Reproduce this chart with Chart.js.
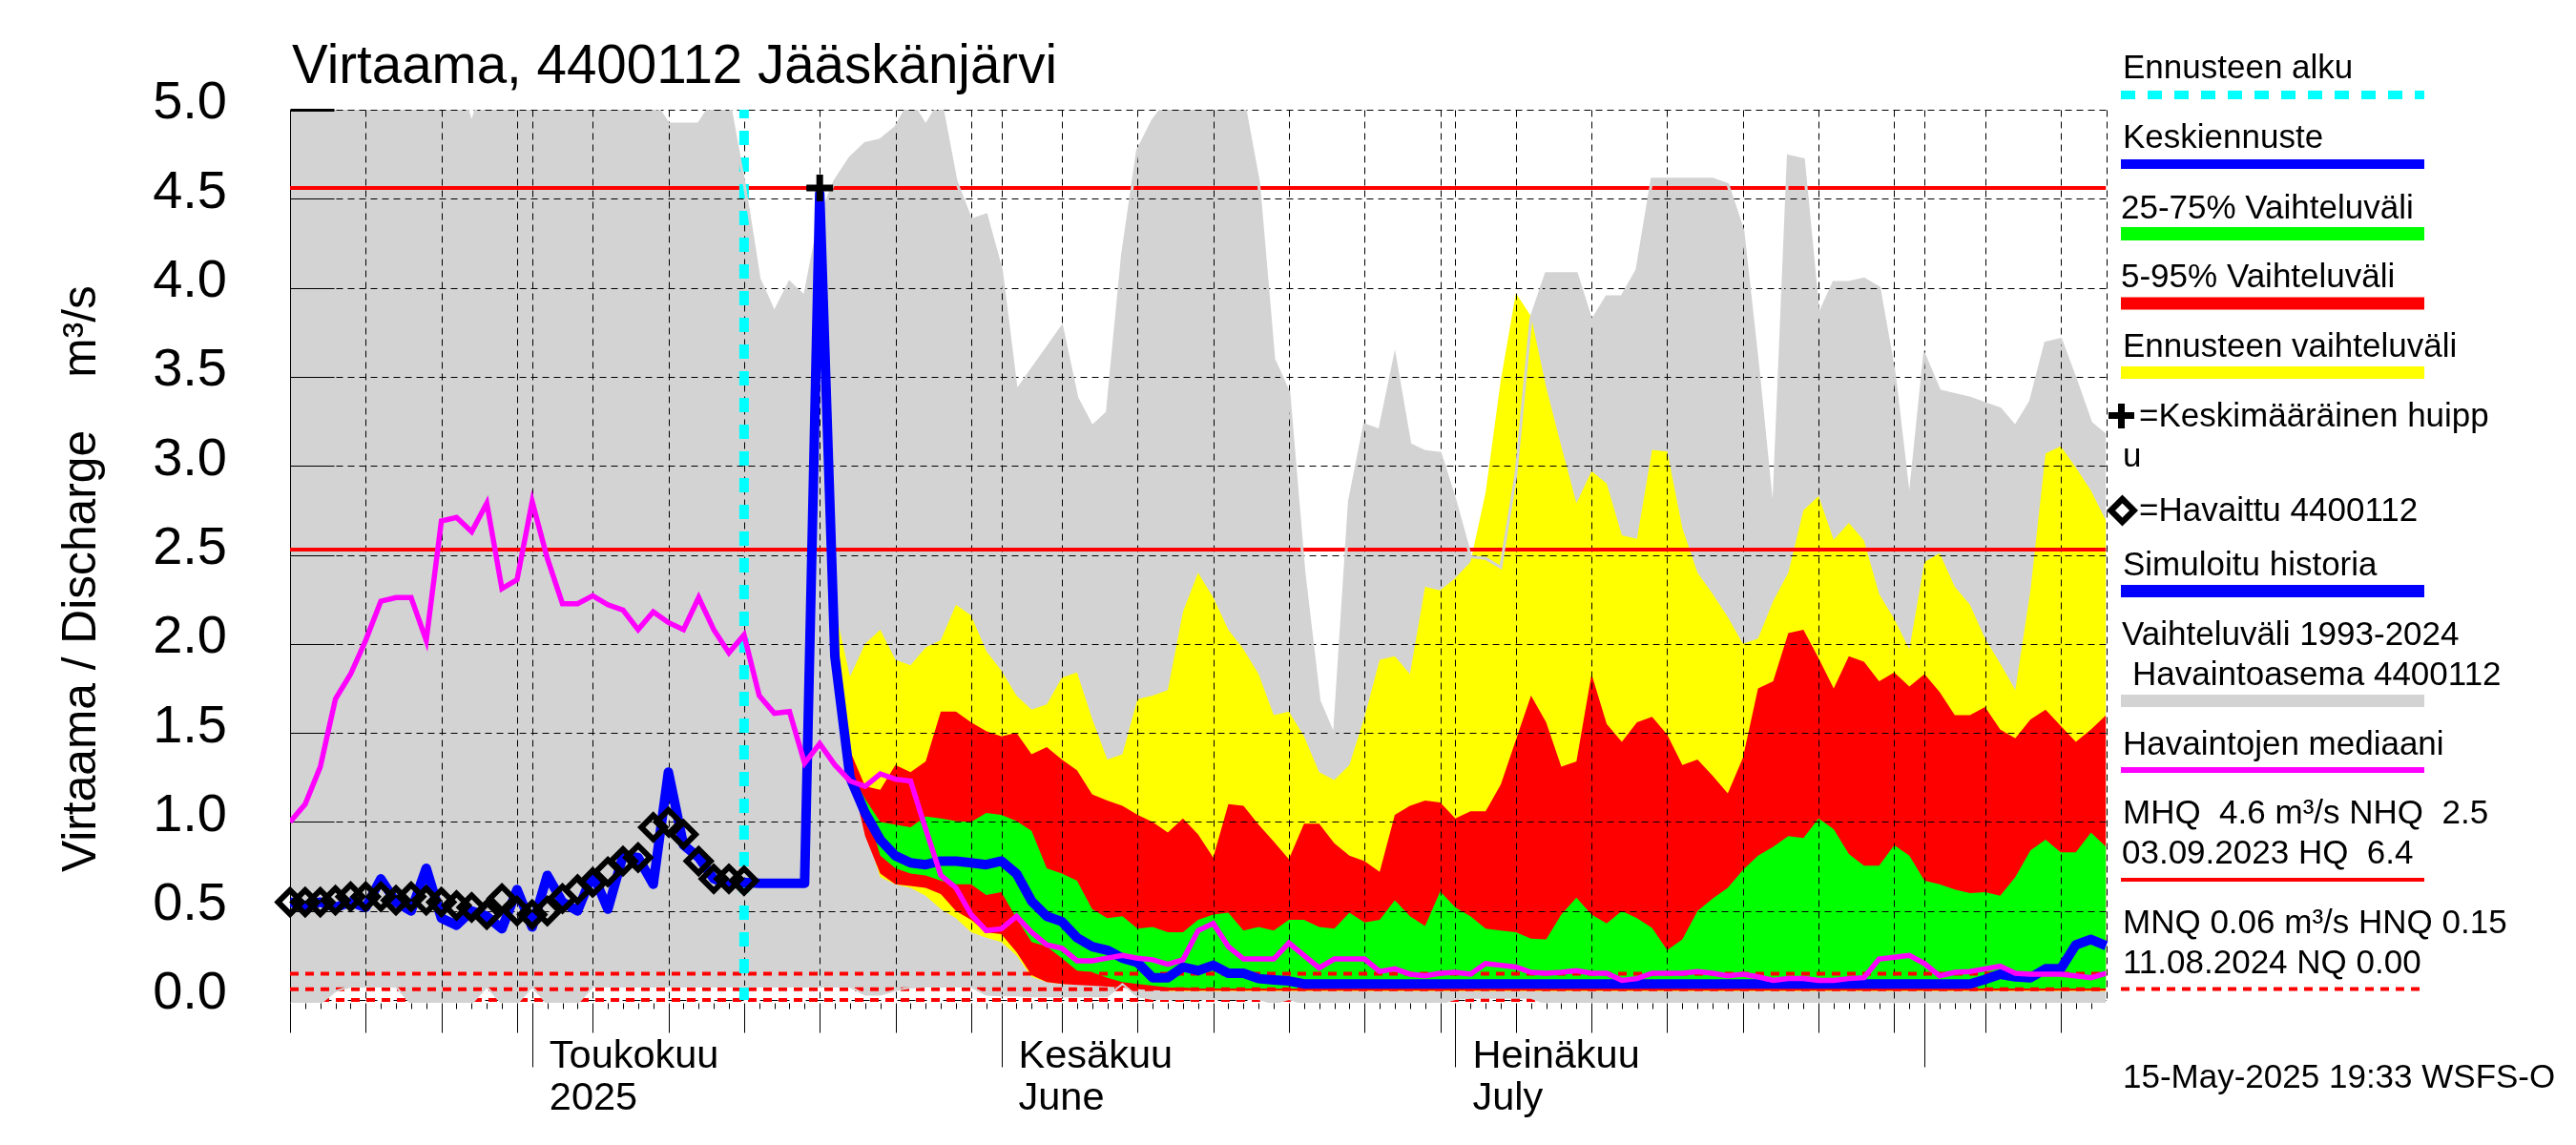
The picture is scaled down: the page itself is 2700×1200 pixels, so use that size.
<!DOCTYPE html>
<html>
<head>
<meta charset="utf-8">
<title>Virtaama 4400112</title>
<script src="https://cdn.jsdelivr.net/npm/chart.js@4"></script>
<style>
  html, body { margin: 0; padding: 0; background: #fff; }
  canvas { display: block; }
</style>
</head>
<body>
<canvas id="chart" width="2700" height="1200"></canvas>
<script>
// Day index 0 = 15 Apr 2025, 120 = 13 Aug 2025
const lastDay = 120;
const yTicks = [0, 0.5, 1, 1.5, 2, 2.5, 3, 3.5, 4, 4.5, 5];
const gridDays = [0, 5, 10, 15, 16, 20, 25, 30, 35, 40, 45, 47, 51, 56, 61, 66, 71, 76, 77, 81, 86, 91, 96, 101, 106, 108, 112, 117];
const monthDays = [16, 47, 77, 108];
const monthNames = [["Toukokuu", "2025"], ["Kesäkuu", "June"], ["Heinäkuu", "July"], [""]];

const greyUpper = [
  5.2, 5.2, 5.2, 5.2, 5.2, 5.2, 5.2, 5.2, 5.2, 5.2,
  5.2, 5.2, 4.92, 5.2, 5.2, 5.2, 5.2, 5.2, 5.2, 5.2,
  5.2, 5.2, 5.2, 5.2, 5.05, 4.92, 4.92, 4.92, 5.05, 5.05,
  4.59, 4.05, 3.86, 4.03, 3.95, 4.39, 4.60, 4.73, 4.81, 4.83,
  4.90, 5.05, 4.91, 5.05, 4.60, 4.38, 4.41, 4.10, 3.42, 3.54,
  3.66, 3.78, 3.38, 3.22, 3.30, 4.18, 4.77, 4.94, 5.05, 5.05,
  5.05, 5.05, 5.05, 5.05, 4.59, 3.60, 3.41, 2.40, 1.68, 1.48,
  2.80, 3.23, 3.20, 3.61, 3.12, 3.08, 3.07, 2.80, 2.49, 2.48,
  2.43, 2.95, 3.83, 4.08, 4.08, 4.08, 3.81, 3.95, 3.95, 4.10,
  4.61, 4.61, 4.61, 4.61, 4.61, 4.58, 4.32, 3.55, 2.70, 4.74,
  4.72, 3.84, 4.03, 4.03, 4.05, 4.00, 3.52, 2.79, 3.62, 3.42,
  3.40, 3.38, 3.35, 3.32, 3.22, 3.36, 3.69, 3.71, 3.48, 3.24,
  3.17
];
const greyLower = [
  -0.02, -0.02, -0.02, 0.05, 0.075, 0.075, 0.075, 0.075, -0.02, -0.02,
  -0.02, -0.02, -0.02, 0.075, -0.02, -0.02, 0.075, -0.02, -0.02, -0.02,
  0.075, 0.075, 0.075, 0.075, 0.075, 0.075, 0.075, 0.075, 0.075, 0.075,
  0.075, 0.075, 0.075, 0.075, 0.075, 0.075, 0.075, 0.075, 0.03, 0.03,
  0.055, 0.07, 0.075, 0.075, 0.075, 0.075, 0.03, 0.025, 0.025, 0.02,
  0.02, 0.02, 0.02, 0.02, 0.02, 0.09, 0.02, 0.005, 0.005, 0.005,
  0.005, 0.005, 0.005, 0.005, 0.005, -0.02, 0.005, -0.02, -0.02, -0.02,
  -0.02, -0.02, -0.02, -0.02, -0.02, -0.02, -0.02, 0.005, 0.012, 0.012,
  0.012, 0.012, 0.012, -0.02, -0.02, -0.02, -0.02, -0.02, -0.02, -0.02,
  -0.02, -0.02, -0.02, -0.02, -0.02, -0.02, -0.02, -0.02, -0.02, -0.02,
  -0.02, -0.02, -0.02, -0.02, -0.02, -0.02, -0.02, -0.02, -0.02, -0.02,
  -0.02, -0.02, -0.02, -0.02, -0.02, -0.02, -0.02, -0.02, -0.02, -0.02,
  -0.02
];

// Forecast bands, yellow starts at day 35, red at day 36, green at day 37
const yellowUpper = [
  4.66, 2.20, 1.815, 2.00, 2.08,
  1.91, 1.88, 1.98, 2.02, 2.22, 2.16, 1.96, 1.85, 1.71, 1.63,
  1.66, 1.81, 1.84, 1.58, 1.35, 1.38, 1.69, 1.71, 1.74, 2.18,
  2.40, 2.26, 2.08, 1.97, 1.83, 1.60, 1.62, 1.48, 1.28, 1.235,
  1.32, 1.59, 1.91, 1.93, 1.83, 2.32, 2.30, 2.37, 2.46, 2.85,
  3.48, 3.97, 3.84, 3.44, 3.11, 2.79, 2.97, 2.90, 2.61, 2.59,
  3.09, 3.08, 2.65, 2.40, 2.28, 2.15, 2.00, 2.03, 2.24, 2.40,
  2.75, 2.83, 2.585, 2.68, 2.58, 2.28, 2.14, 1.97, 2.46, 2.51,
  2.32, 2.22, 2.03, 1.89, 1.74, 2.30, 3.07, 3.11, 2.99, 2.86,
  2.69
];
const yellowLower = [
  4.45, 1.85, 1.30, 0.96, 0.69,
  0.65, 0.63, 0.585, 0.51, 0.46, 0.38, 0.35, 0.325, 0.25, 0.13,
  0.10, 0.09, 0.09, 0.09, 0.09, 0.08, 0.07, 0.06, 0.05, 0.05,
  0.05, 0.05, 0.05, 0.05, 0.05, 0.05, 0.05, 0.05, 0.05, 0.05,
  0.05, 0.05, 0.05, 0.05, 0.05, 0.05, 0.05, 0.05, 0.05, 0.05,
  0.05, 0.05, 0.05, 0.05, 0.05, 0.05, 0.05, 0.05, 0.05, 0.05,
  0.05, 0.05, 0.05, 0.05, 0.05, 0.05, 0.05, 0.05, 0.05, 0.05,
  0.05, 0.05, 0.05, 0.05, 0.05, 0.05, 0.05, 0.05, 0.05, 0.05,
  0.05, 0.05, 0.05, 0.05, 0.05, 0.05, 0.05, 0.05, 0.05, 0.05,
  0.05
];
const redUpper = [
  1.90, 1.40, 1.20, 1.18,
  1.32, 1.28, 1.34, 1.62, 1.62, 1.56, 1.51, 1.48, 1.50, 1.38,
  1.42, 1.35, 1.29, 1.155, 1.12, 1.09, 1.04, 1.00, 0.94, 1.02,
  0.93, 0.80, 1.10, 1.09, 0.985, 0.89, 0.79, 0.99, 0.99, 0.88,
  0.81, 0.78, 0.72, 1.04, 1.09, 1.12, 1.11, 1.02, 1.06, 1.06,
  1.21, 1.46, 1.71, 1.56, 1.31, 1.34, 1.83, 1.55, 1.45, 1.56,
  1.59, 1.49, 1.32, 1.35, 1.26, 1.16, 1.36, 1.75, 1.79, 2.06,
  2.08, 1.92, 1.75, 1.93, 1.90, 1.79, 1.84, 1.76, 1.83, 1.73,
  1.60, 1.60, 1.645, 1.52, 1.47, 1.575, 1.63, 1.54, 1.45, 1.52,
  1.60
];
const redLower = [
  1.80, 1.29, 0.92, 0.71,
  0.65, 0.64, 0.63, 0.595, 0.50, 0.45, 0.38, 0.37, 0.27, 0.14,
  0.10, 0.09, 0.085, 0.08, 0.075, 0.07, 0.06, 0.055, 0.052, 0.052,
  0.052, 0.052, 0.052, 0.052, 0.052, 0.052, 0.052, 0.052, 0.052, 0.052,
  0.052, 0.052, 0.052, 0.052, 0.052, 0.052, 0.052, 0.052, 0.052, 0.052,
  0.052, 0.052, 0.052, 0.052, 0.052, 0.052, 0.052, 0.052, 0.052, 0.052,
  0.052, 0.052, 0.052, 0.052, 0.052, 0.052, 0.052, 0.052, 0.052, 0.052,
  0.052, 0.052, 0.052, 0.052, 0.052, 0.052, 0.052, 0.052, 0.052, 0.052,
  0.052, 0.052, 0.052, 0.052, 0.052, 0.052, 0.052, 0.052, 0.052, 0.052,
  0.052
];
const greenUpper = [
  1.28, 1.13, 1.00,
  0.985, 0.97, 1.03, 1.02, 1.005, 1.00, 1.05, 1.04, 1.005, 0.95,
  0.74, 0.71, 0.67, 0.51, 0.46, 0.47, 0.40, 0.41, 0.38, 0.38,
  0.45, 0.48, 0.49, 0.39, 0.41, 0.39, 0.45, 0.45, 0.41, 0.40,
  0.49, 0.435, 0.45, 0.56, 0.47, 0.415, 0.61, 0.52, 0.47, 0.40,
  0.39, 0.38, 0.345, 0.34, 0.48, 0.575, 0.48, 0.43, 0.50, 0.46,
  0.405, 0.28, 0.34, 0.50, 0.57, 0.63, 0.73, 0.81, 0.86, 0.92,
  0.91, 1.02, 0.96, 0.82, 0.755, 0.755, 0.87, 0.81, 0.67, 0.65,
  0.62, 0.60, 0.605, 0.585, 0.69, 0.84, 0.90, 0.83, 0.83, 0.94,
  0.86
];
const greenLower = [
  1.27, 1.09, 0.81,
  0.74, 0.71, 0.70, 0.67, 0.65, 0.65, 0.59, 0.605, 0.46, 0.325,
  0.30, 0.235, 0.165, 0.155, 0.125, 0.10, 0.09, 0.08, 0.07, 0.07,
  0.065, 0.065, 0.065, 0.065, 0.065, 0.065, 0.065, 0.065, 0.065, 0.065,
  0.065, 0.065, 0.065, 0.065, 0.065, 0.065, 0.065, 0.065, 0.065, 0.065,
  0.065, 0.065, 0.065, 0.065, 0.065, 0.065, 0.065, 0.065, 0.065, 0.065,
  0.065, 0.065, 0.065, 0.065, 0.065, 0.065, 0.065, 0.065, 0.065, 0.065,
  0.065, 0.065, 0.065, 0.065, 0.065, 0.065, 0.065, 0.065, 0.065, 0.065,
  0.065, 0.065, 0.065, 0.065, 0.065, 0.065, 0.065, 0.065, 0.065, 0.065,
  0.065
];

// Simulated history up to day 30, then the mean forecast
const blueLine = [
  0.55, 0.53, 0.55, 0.52, 0.55, 0.52, 0.68, 0.55, 0.50, 0.74,
  0.46, 0.42, 0.50, 0.47, 0.40, 0.62, 0.41, 0.70, 0.55, 0.50,
  0.71, 0.51, 0.81, 0.80, 0.65, 1.28, 0.87, 0.80, 0.68, 0.65,
  0.66, 0.655, 0.655, 0.655, 0.655, 4.53, 1.93, 1.25, 1.05, 0.90,
  0.81, 0.77, 0.76, 0.78, 0.78, 0.77, 0.76, 0.78, 0.71, 0.555,
  0.47, 0.44, 0.35, 0.30, 0.28, 0.235, 0.21, 0.125, 0.125, 0.185,
  0.165, 0.195, 0.15, 0.15, 0.12, 0.113, 0.107, 0.09, 0.09, 0.09,
  0.09, 0.09, 0.09, 0.09, 0.09, 0.09, 0.09, 0.09, 0.09, 0.09,
  0.09, 0.09, 0.09, 0.09, 0.09, 0.09, 0.09, 0.09, 0.09, 0.09,
  0.09, 0.09, 0.09, 0.09, 0.09, 0.09, 0.09, 0.09, 0.09, 0.09,
  0.09, 0.09, 0.09, 0.09, 0.09, 0.09, 0.09, 0.09, 0.09, 0.09,
  0.09, 0.09, 0.115, 0.145, 0.13, 0.125, 0.175, 0.175, 0.31, 0.34,
  0.305
];
const observed = [
  0.55, 0.55, 0.55, 0.56, 0.58, 0.58, 0.58, 0.56, 0.58, 0.56,
  0.55, 0.53, 0.52, 0.48, 0.57, 0.50, 0.48, 0.50, 0.57, 0.62,
  0.66, 0.72, 0.78, 0.80, 0.97, 1.00, 0.93, 0.78, 0.68, 0.68,
  0.67
];
const median = [
  1.00, 1.10, 1.31, 1.69, 1.83, 2.02, 2.24, 2.26, 2.26, 2.02,
  2.69, 2.71, 2.63, 2.79, 2.31, 2.36, 2.80, 2.48, 2.226, 2.226,
  2.27, 2.22, 2.19, 2.08, 2.18, 2.12, 2.08, 2.26, 2.08, 1.95,
  2.05, 1.71, 1.61, 1.62, 1.33, 1.44, 1.32, 1.23, 1.20, 1.27,
  1.24, 1.23, 0.96, 0.70, 0.63, 0.48, 0.39, 0.40, 0.47, 0.38,
  0.31, 0.29, 0.22, 0.22, 0.235, 0.25, 0.235, 0.226, 0.20, 0.226,
  0.39, 0.43, 0.30, 0.23, 0.23, 0.23, 0.32, 0.25, 0.18, 0.23,
  0.23, 0.23, 0.16, 0.175, 0.145, 0.135, 0.15, 0.155, 0.145, 0.205,
  0.195, 0.185, 0.155, 0.15, 0.155, 0.165, 0.15, 0.15, 0.11, 0.12,
  0.15, 0.15, 0.15, 0.16, 0.15, 0.135, 0.145, 0.13, 0.11, 0.12,
  0.12, 0.11, 0.11, 0.12, 0.125, 0.23, 0.24, 0.25, 0.205, 0.135,
  0.155, 0.16, 0.175, 0.19, 0.15, 0.145, 0.145, 0.145, 0.135, 0.125,
  0.15
];

const forecastStartDay = 30;
const peakDay = 35;
const peakValue = 4.56;
const MHQ = 4.56, NHQ = 2.53, HNQ = 0.148, MNQ = 0.06, NQ = 0;

const FONT = '"Liberation Sans", Arial, sans-serif';
const BLACK = "#000000", RED = "#ff0000", GREY = "#d3d3d3", BLUE = "#0000ff";
const MAGENTA = "#ff00ff", CYAN = "#00ffff", YELLOW = "#ffff00", GREEN = "#00ff00";

function xy(values, start) {
  return values.map((v, i) => ({ x: start + i, y: v }));
}

function band(name, upper, lower, start, color, order) {
  return [
    { label: name, data: xy(upper, start), fill: "+1", backgroundColor: color, borderWidth: 0, pointRadius: 0, order: order },
    { label: name + " low", data: xy(lower, start), fill: false, borderWidth: 0, pointRadius: 0, order: order + 1 }
  ];
}

function level(name, value, dash, order) {
  return {
    label: name,
    data: [{ x: 0, y: value }, { x: lastDay, y: value }],
    borderColor: RED, borderWidth: 4, borderDash: dash, pointRadius: 0, fill: false, order: order
  };
}

const datasets = [
  { label: "Keskimääräinen huippu", data: [{ x: peakDay, y: peakValue }], showLine: false, pointStyle: "cross", pointRadius: 14, pointBorderWidth: 7, pointBorderColor: BLACK, clip: false, order: 0 },
  { label: "Havaittu", data: xy(observed, 0), borderColor: BLACK, borderWidth: 0, showLine: false, pointStyle: "rectRot", pointRadius: 12.5, pointBorderWidth: 6, pointBorderColor: BLACK, pointBackgroundColor: "rgba(0,0,0,0)", clip: false, order: 1 },
  { label: "Havaintojen mediaani", data: xy(median, 0), borderColor: MAGENTA, borderWidth: 5.5, pointRadius: 0, fill: false, order: 2 },
  { label: "Keskiennuste", data: xy(blueLine, 0), borderColor: BLUE, borderWidth: 10, borderJoinStyle: "round", pointRadius: 0, fill: false, clip: { left: 0, top: 0, right: 4, bottom: 0 }, order: 3 },
  { label: "Vaihteluväli yläraja", data: xy(greyUpper, 0), borderColor: GREY, borderWidth: 3, pointRadius: 0, fill: false, order: 4 },
  { label: "Vaihteluväli alaraja", data: xy(greyLower, 0), borderColor: GREY, borderWidth: 2, pointRadius: 0, fill: false, order: 5 },
  { label: "Ennusteen alku", data: [{ x: forecastStartDay, y: 0 }, { x: forecastStartDay, y: 5 }], borderColor: CYAN, borderWidth: 10, borderDash: [15, 13], pointRadius: 0, fill: false, order: 6 },
  level("HNQ", HNQ, [9, 7], 7),
  level("MNQ", MNQ, [9, 7], 8),
  level("NHQ", NHQ, [], 9),
  level("MHQ", MHQ, [], 10),
  ...band("25-75%", greenUpper, greenLower, 37, GREEN, 14),
  ...band("5-95%", redUpper, redLower, 36, RED, 16),
  ...band("Ennusteen vaihteluväli", yellowUpper, yellowLower, 35, YELLOW, 18),
  ...band("Vaihteluväli", greyUpper, greyLower, 0, GREY, 20),
  level("NQ", NQ, [9, 7], 30)
];

function crisp(v) {
  return Math.round(v) + 0.5;
}

function dashedLine(ctx, x1, y1, x2, y2) {
  ctx.save();
  ctx.strokeStyle = BLACK;
  ctx.lineWidth = 1;
  ctx.setLineDash([7, 5]);
  ctx.beginPath();
  ctx.moveTo(crisp(x1), crisp(y1));
  ctx.lineTo(crisp(x2), crisp(y2));
  ctx.stroke();
  ctx.restore();
}

function solidLine(ctx, x1, y1, x2, y2, width) {
  ctx.save();
  ctx.strokeStyle = BLACK;
  ctx.lineWidth = width;
  ctx.beginPath();
  ctx.moveTo(crisp(x1), crisp(y1));
  ctx.lineTo(crisp(x2), crisp(y2));
  ctx.stroke();
  ctx.restore();
}

// Zero line sits under the grey band, the other grid lines go over the fills
const gridPlugin = {
  id: "gridPlugin",
  beforeDatasetsDraw(chart) {
    const area = chart.chartArea;
    const y0 = chart.scales.y.getPixelForValue(0);
    dashedLine(chart.ctx, area.left, y0, area.right, y0);
  },
  beforeDatasetDraw(chart, args) {
    if (chart.data.datasets[args.index].label !== "MHQ") return;
    const ctx = chart.ctx, area = chart.chartArea;
    const xs = chart.scales.x, ys = chart.scales.y;
    yTicks.forEach(v => {
      if (v === 0) return;
      const y = ys.getPixelForValue(v);
      dashedLine(ctx, area.left, y, area.right, y);
      solidLine(ctx, area.left, y, area.left + 46, y, v === 5 ? 3 : 1);
    });
    gridDays.forEach(d => {
      const x = xs.getPixelForValue(d);
      if (d > 0) dashedLine(ctx, x, area.top, x, area.bottom);
    });
    dashedLine(ctx, area.right, area.top, area.right, area.bottom);
    solidLine(ctx, area.left, area.top, area.left, area.bottom, 1);
  },
  afterDraw(chart) {
    const ctx = chart.ctx, area = chart.chartArea, xs = chart.scales.x;
    for (let d = 0; d < lastDay; d++) {
      const x = xs.getPixelForValue(d);
      let len = 6;
      if (gridDays.includes(d)) len = 31;
      if (monthDays.includes(d)) len = 67;
      solidLine(ctx, x, area.bottom, x, area.bottom + len, 1);
    }
  }
};

function legendText(ctx, text, x, y) {
  ctx.fillText(text, x, y);
}

function legendLine(ctx, y, color, width, dash) {
  ctx.save();
  ctx.strokeStyle = color;
  ctx.lineWidth = width;
  ctx.setLineDash(dash || []);
  ctx.beginPath();
  ctx.moveTo(2223, y);
  ctx.lineTo(2541, y);
  ctx.stroke();
  ctx.restore();
}

const textPlugin = {
  id: "textPlugin",
  afterDraw(chart) {
    const ctx = chart.ctx;
    ctx.save();
    ctx.fillStyle = BLACK;
    ctx.textAlign = "left";
    ctx.textBaseline = "alphabetic";

    ctx.font = "56.5px " + FONT;
    ctx.fillText("Virtaama, 4400112 Jääskänjärvi", 306, 87);

    // rotated axis title
    ctx.save();
    ctx.translate(100, 914);
    ctx.rotate(-Math.PI / 2);
    ctx.font = "49.7px " + FONT;
    ctx.fillText("Virtaama / Discharge    m³/s", 0, 0);
    ctx.restore();

    ctx.font = "35px " + FONT;
    legendText(ctx, "Ennusteen alku", 2225, 82);
    legendLine(ctx, 99.5, CYAN, 9, [15, 13]);
    legendText(ctx, "Keskiennuste", 2225, 155);
    legendLine(ctx, 172, BLUE, 10);
    legendText(ctx, "25-75% Vaihteluväli", 2223, 228.5);
    legendLine(ctx, 245, GREEN, 14);
    legendText(ctx, "5-95% Vaihteluväli", 2223, 301);
    legendLine(ctx, 318, RED, 13);
    legendText(ctx, "Ennusteen vaihteluväli", 2225, 374);
    legendLine(ctx, 390.5, YELLOW, 13);

    // plus marker
    ctx.save();
    ctx.strokeStyle = BLACK;
    ctx.lineWidth = 7;
    ctx.beginPath();
    ctx.moveTo(2210, 435.5);
    ctx.lineTo(2237, 435.5);
    ctx.moveTo(2223.5, 423);
    ctx.lineTo(2223.5, 449);
    ctx.stroke();
    ctx.restore();
    legendText(ctx, "=Keskimääräinen huipp", 2242, 446.5);
    legendText(ctx, "u", 2225, 489);

    // diamond marker
    ctx.save();
    ctx.strokeStyle = BLACK;
    ctx.lineWidth = 6.4;
    ctx.beginPath();
    ctx.moveTo(2224.5, 523);
    ctx.lineTo(2236.5, 535);
    ctx.lineTo(2224.5, 547);
    ctx.lineTo(2212.5, 535);
    ctx.closePath();
    ctx.stroke();
    ctx.restore();
    legendText(ctx, "=Havaittu 4400112", 2242, 546);

    legendText(ctx, "Simuloitu historia", 2225, 603);
    legendLine(ctx, 619.5, BLUE, 13);
    legendText(ctx, "Vaihteluväli 1993-2024", 2224, 676);
    legendText(ctx, "Havaintoasema 4400112", 2235, 718);
    legendLine(ctx, 734.5, GREY, 13);
    legendText(ctx, "Havaintojen mediaani", 2225, 790.5);
    legendLine(ctx, 807, MAGENTA, 6);
    legendText(ctx, "MHQ  4.6 m³/s NHQ  2.5", 2225, 863);
    legendText(ctx, "03.09.2023 HQ  6.4", 2224, 905);
    legendLine(ctx, 922, RED, 4);
    legendText(ctx, "MNQ 0.06 m³/s HNQ 0.15", 2225, 978);
    legendText(ctx, "11.08.2024 NQ 0.00", 2225, 1020);
    legendLine(ctx, 1036.5, RED, 4, [9, 7]);
    legendText(ctx, "15-May-2025 19:33 WSFS-O", 2225, 1139.5);
    ctx.restore();
  }
};

new Chart(document.getElementById("chart").getContext("2d"), {
  type: "line",
  data: { datasets: datasets },
  plugins: [gridPlugin, textPlugin],
  options: {
    responsive: false,
    devicePixelRatio: 1,
    animation: false,
    layout: { padding: { left: 0, top: 115, right: 492.5, bottom: 0 } },
    elements: { line: { tension: 0 } },
    plugins: {
      legend: { display: false },
      title: { display: false },
      tooltip: { enabled: false }
    },
    scales: {
      x: {
        type: "linear",
        min: 0,
        max: lastDay,
        grid: { display: false },
        border: { display: false },
        afterBuildTicks(scale) {
          scale.ticks = monthDays.map(d => ({ value: d }));
        },
        afterFit(scale) {
          scale.height = 149;
        },
        ticks: {
          autoSkip: false,
          maxRotation: 0,
          align: "start",
          labelOffset: 18,
          padding: 27,
          color: BLACK,
          font: { size: 41.5, family: FONT, lineHeight: 1.06 },
          callback(value) {
            const i = monthDays.indexOf(value);
            return i >= 0 ? monthNames[i] : "";
          }
        }
      },
      y: {
        type: "linear",
        min: -0.016,
        max: 5,
        grid: { display: false, drawTicks: false },
        border: { display: false },
        afterBuildTicks(scale) {
          scale.ticks = yTicks.map(v => ({ value: v }));
        },
        afterFit(scale) {
          scale.width = 304;
        },
        ticks: {
          padding: 66,
          labelOffset: -6,
          color: BLACK,
          font: { size: 56, family: FONT },
          callback(value) {
            return value.toFixed(1);
          }
        }
      }
    }
  }
});
</script>
</body>
</html>
